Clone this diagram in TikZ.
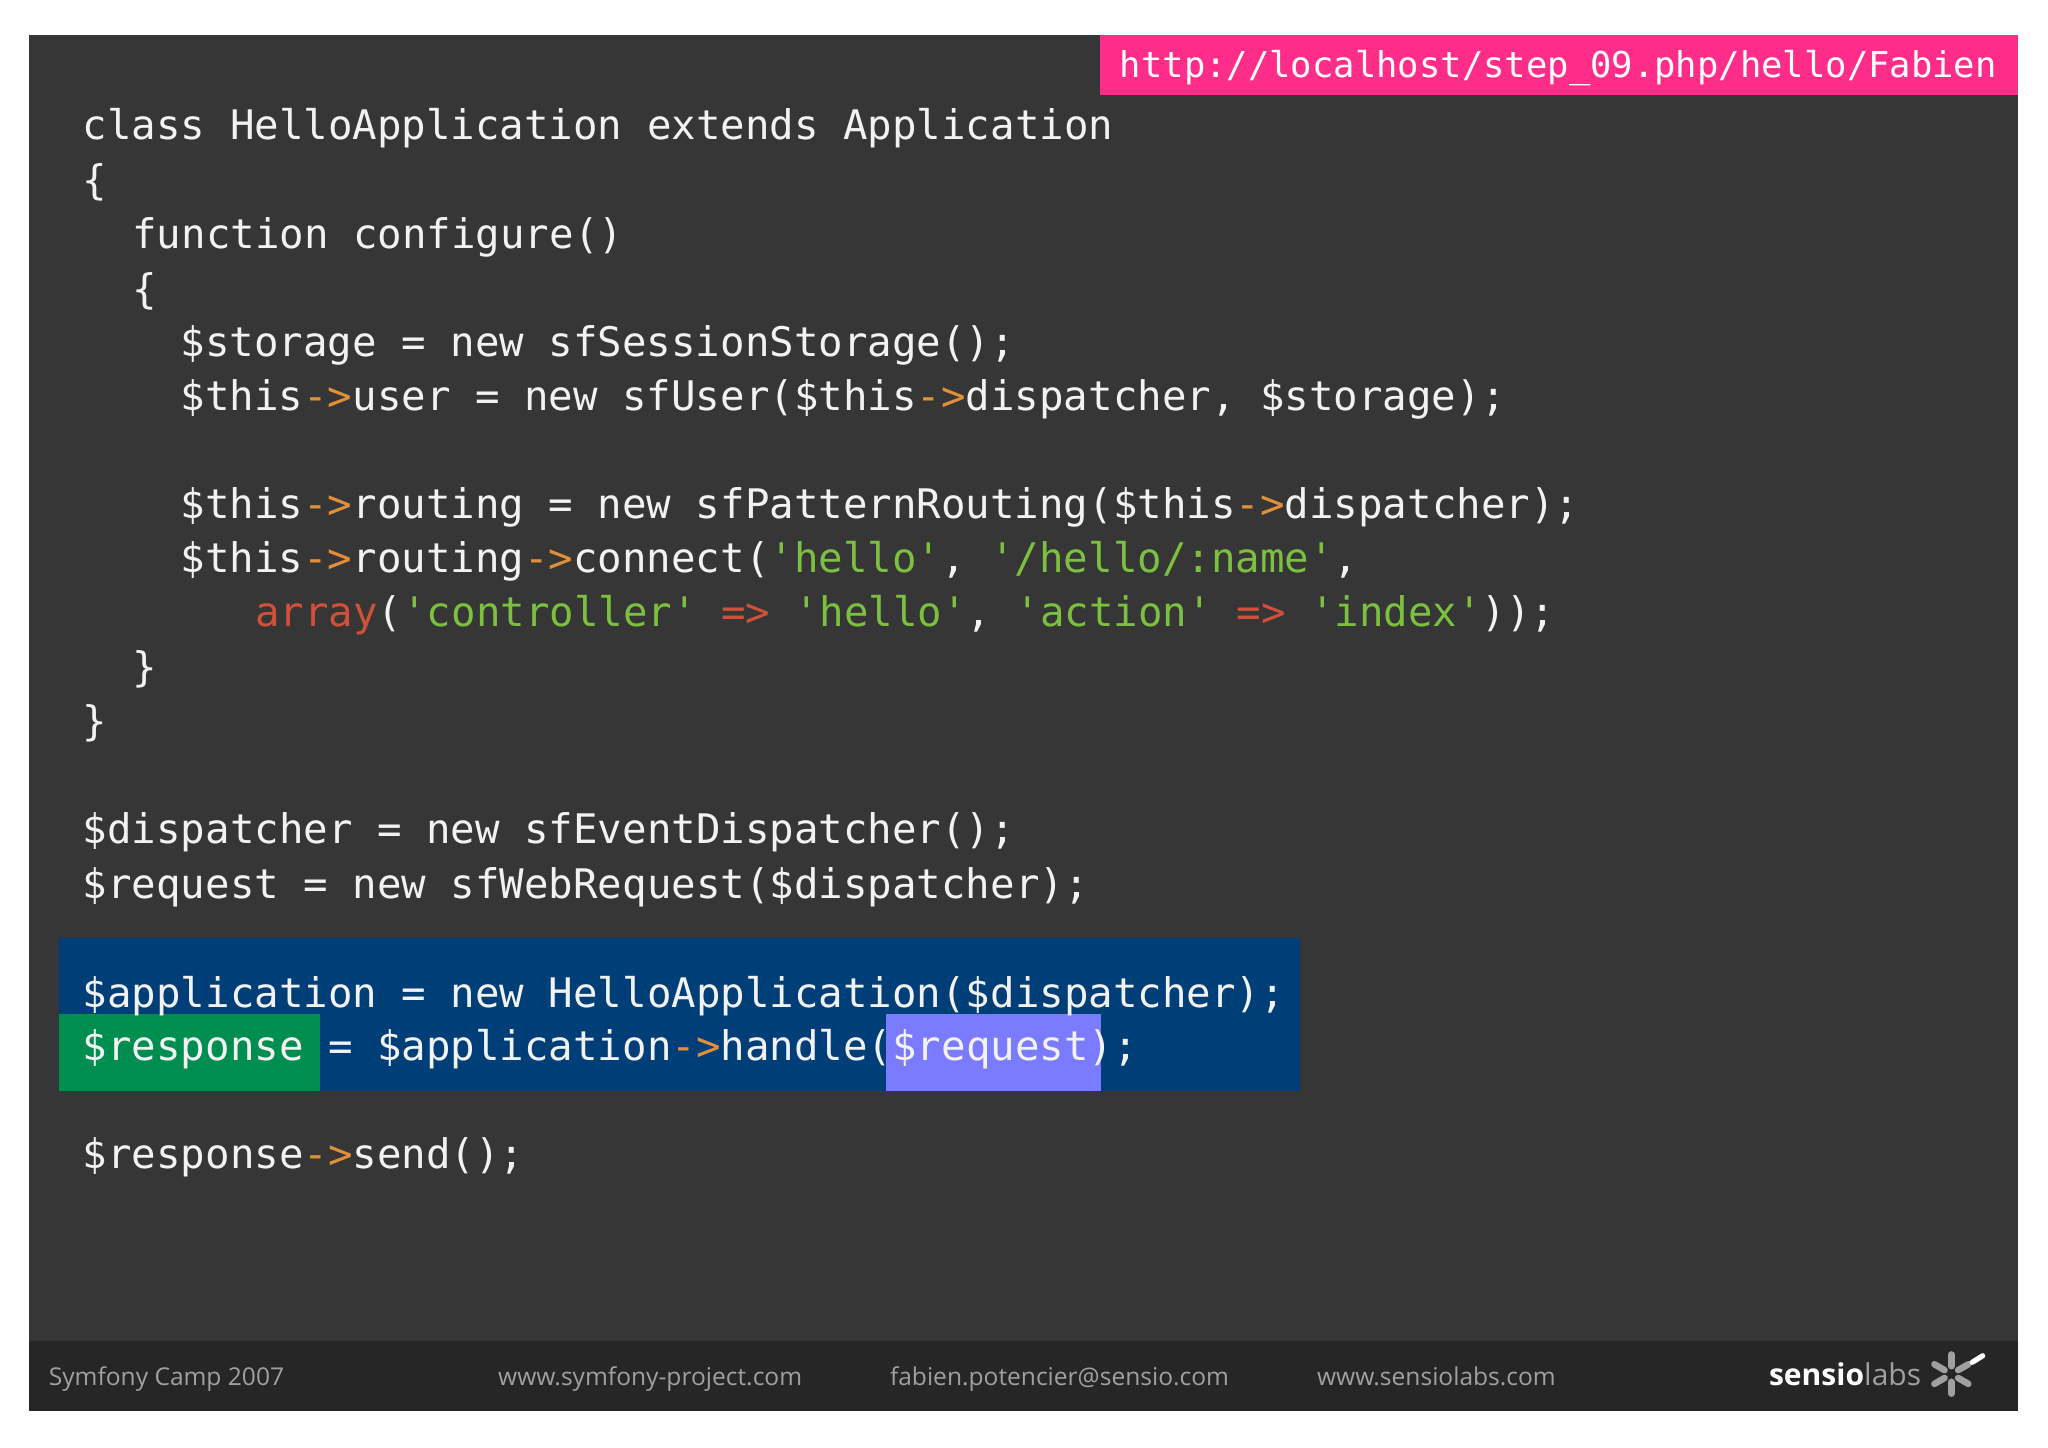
\documentclass[tikz,border=0pt]{standalone}
\usepackage{fontspec}
\usetikzlibrary{calc}
\newfontfamily\code{DejaVu Sans Mono}
\newfontfamily\foot{Open Sans}
\definecolor{bg}{HTML}{363636}
\definecolor{footbg}{HTML}{262626}
\definecolor{pinkc}{HTML}{FF2D8A}
\definecolor{hlblue}{HTML}{003E78}
\definecolor{hlgreen}{HTML}{008E50}
\definecolor{hlpurple}{HTML}{7B7BFF}
\definecolor{arr}{HTML}{E0903A}
\definecolor{strc}{HTML}{7CC040}
\definecolor{kw}{HTML}{D0503A}
\definecolor{txt}{HTML}{F2F2F2}
\definecolor{ftxt}{HTML}{A0A0A0}
\newcommand\q{{\char"27}}
\newcommand\ar{\textcolor{arr}{->}}
\newcommand\st[1]{\textcolor{strc}{\q#1\q}}
\newcommand\fa{\textcolor{kw}{=>}}
\tikzset{codeline/.style={anchor=base west,inner sep=0pt,text=txt,font=\code\fontsize{15.6}{18}\selectfont},
footline/.style={anchor=base west,inner sep=0pt,text=ftxt,font=\foot\fontsize{9.4}{11}\selectfont}}
\begin{document}
\begin{tikzpicture}[x=0.5pt,y=-0.5pt]
\useasboundingbox (0,0) rectangle (1568,1108);
\fill[white] (0,0) rectangle (1568,1108);
\fill[bg] (22,27) rectangle (1545,1080);
\fill[footbg] (22,1027) rectangle (1545,1080);
\fill[pinkc] (842,27) rectangle (1545,73);
\fill[hlblue] (45,718) rectangle (995,835);
\fill[hlgreen] (45,776) rectangle (245,835);
\fill[hlpurple] (678,776) rectangle (843,835);
\node[codeline,text=white,font=\code\fontsize{13.6}{16}\selectfont] (url) at (857,59) {http://localhost/step\_09.php/hello/Fabien};
\node[codeline] (l1) at (63,107) {class HelloApplication extends Application};
\node[codeline] (l2) at (63,149) {\{};
\node[codeline] (l3) at (101,190) {function configure()};
\node[codeline] (l4) at (101,232) {\{};
\node[codeline] (l5) at (138,273) {\$storage = new sfSessionStorage();};
\node[codeline] (l6) at (138,314) {\$this\ar user = new sfUser(\$this\ar dispatcher, \$storage);};
\node[codeline] (l7) at (138,397) {\$this\ar routing = new sfPatternRouting(\$this\ar dispatcher);};
\node[codeline] (l8) at (138,438) {\$this\ar routing\ar connect(\st{hello}, \st{/hello/:name},};
\node[codeline] (l9) at (195,480) {\textcolor{kw}{array}(\st{controller} \fa{} \st{hello}, \st{action} \fa{} \st{index}));};
\node[codeline] (l10) at (101,522) {\}};
\node[codeline] (l11) at (63,563) {\}};
\node[codeline] (l12) at (63,646) {\$dispatcher = new sfEventDispatcher();};
\node[codeline] (l13) at (63,688) {\$request = new sfWebRequest(\$dispatcher);};
\node[codeline] (l14) at (63,771) {\$application = new HelloApplication(\$dispatcher);};
\node[codeline] (l15) at (63,812) {\$response = \$application\ar handle(\$request);};
\node[codeline] (l16) at (63,895) {\$response\ar send();};
\node[footline] (f1) at (37,1061) {Symfony Camp 2007};
\node[footline] (f2) at (381,1061) {www.symfony-project.com};
\node[footline] (f3) at (681,1061) {fabien.potencier@sensio.com};
\node[footline] (f4) at (1008,1061) {www.sensiolabs.com};
\node[anchor=base west,inner sep=0pt,font=\foot\fontsize{11.5}{13}\selectfont] (logo) at (1354,1061) {\textcolor{white}{\textbf{sensio}}\textcolor{ftxt}{labs}};
\coordinate (star) at (1494,1052);
\foreach \a in {30,90,150,210,270,330}
  \draw[ftxt,line width=2.5pt,line cap=round] ($(star)+(\a:6)$) -- ($(star)+(\a:15)$);
\draw[white,line width=2pt,line cap=round] (1510,1043) -- (1518,1038);
\end{tikzpicture}
\end{document}
